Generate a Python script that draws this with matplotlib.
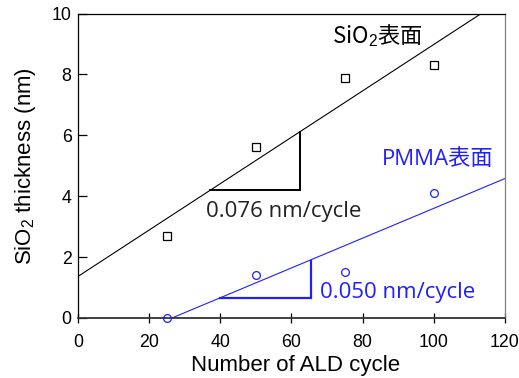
import numpy as np
import matplotlib
matplotlib.use("Agg")
import matplotlib.pyplot as plt

# data
cycles = [25, 50, 75, 100]
sio2_thick = [2.7, 5.6, 7.9, 8.3]
pmma_thick = [0.0, 1.4, 1.5, 4.1]

sio2_fit_x = [0, 113.3]
sio2_fit_y = [1.36, 10.0]
pmma_fit_x = [26.5, 120]
pmma_fit_y = [0.0, 4.58]

sio2_tri_x = [37.1, 62.4, 62.4]
sio2_tri_y = [4.2, 4.2, 6.12]
pmma_tri_x = [39.9, 65.5, 65.5]
pmma_tri_y = [0.64, 0.64, 1.88]

xticks = [0, 20, 40, 60, 80, 100, 120]
yticks = [0, 2, 4, 6, 8, 10]

BLUE = "#1f1fff"

plt.rcParams['mathtext.fontset'] = 'custom'
plt.rcParams['mathtext.rm'] = 'Liberation Sans'
plt.rcParams['mathtext.it'] = 'Liberation Sans'

fig = plt.figure(figsize=(5.19, 3.78), dpi=100)
ax = fig.add_axes([0.150, 0.159, 0.823, 0.805])

ax.plot(sio2_fit_x, sio2_fit_y, color='black', lw=0.8)
ax.plot(pmma_fit_x, pmma_fit_y, color=BLUE, lw=0.8)
ax.plot(sio2_tri_x, sio2_tri_y, color='black', lw=1.4, solid_joinstyle='miter')
ax.plot(pmma_tri_x, pmma_tri_y, color=BLUE, lw=1.6, solid_joinstyle='miter')

ax.plot(cycles, sio2_thick, ls='none', marker='s', ms=5.8, mfc='white',
        mec='black', mew=0.9, clip_on=False)
ax.plot(cycles, pmma_thick, ls='none', marker='o', ms=5.6, mfc='none',
        mec=BLUE, mew=0.9, clip_on=False, zorder=5)

ax.set_xlim(0, 120)
ax.set_ylim(0, 10)
ax.set_xticks(xticks)
ax.set_yticks(yticks)

tickfont = dict(family='Liberation Sans', size=12.8)
ax.set_xticklabels([str(v) for v in xticks], **tickfont)
ax.set_yticklabels([str(v) for v in yticks], **tickfont)
ax.tick_params(axis='x', direction='inout', length=6.5, width=0.9, pad=8, top=False)
ax.tick_params(axis='y', direction='in', length=6.5, width=0.9, pad=4.5, right=False)

ax.set_xlabel('Number of ALD cycle', family='Liberation Sans', size=16)
ax.xaxis.set_label_coords(0.5105, -0.123)
ax.set_ylabel('SiO$_2$ thickness (nm)', family='Liberation Sans', size=16, labelpad=10)

ax.spines['left'].set_color('black')
ax.spines['top'].set_color('black')
ax.spines['right'].set_color('#808080')
ax.spines['bottom'].set_color('#333333')
ax.spines['bottom'].set_linewidth(1.3)
for s in ['left', 'top', 'right']:
    ax.spines[s].set_linewidth(0.9)

jp = ['Open Sans', 'Noto Sans CJK JP', 'DejaVu Sans']
jp2 = ['Noto Sans CJK JP', 'DejaVu Sans']
ax.text(71.3, 9.29, 'SiO$_2$表面', family=jp2, size=16, color='black',
        ha='left', va='center')
ax.text(36.1, 3.51, '0.076 nm/cycle', family=jp, size=16, color='#222222',
        ha='left', va='center')
ax.text(85.3, 5.22, 'PMMA表面', family=jp, size=16, color=BLUE,
        ha='left', va='center')
ax.text(68.0, 0.84, '0.050 nm/cycle', family=jp, size=16, color=BLUE,
        ha='left', va='center')

fig.savefig('out.png', dpi=100)
